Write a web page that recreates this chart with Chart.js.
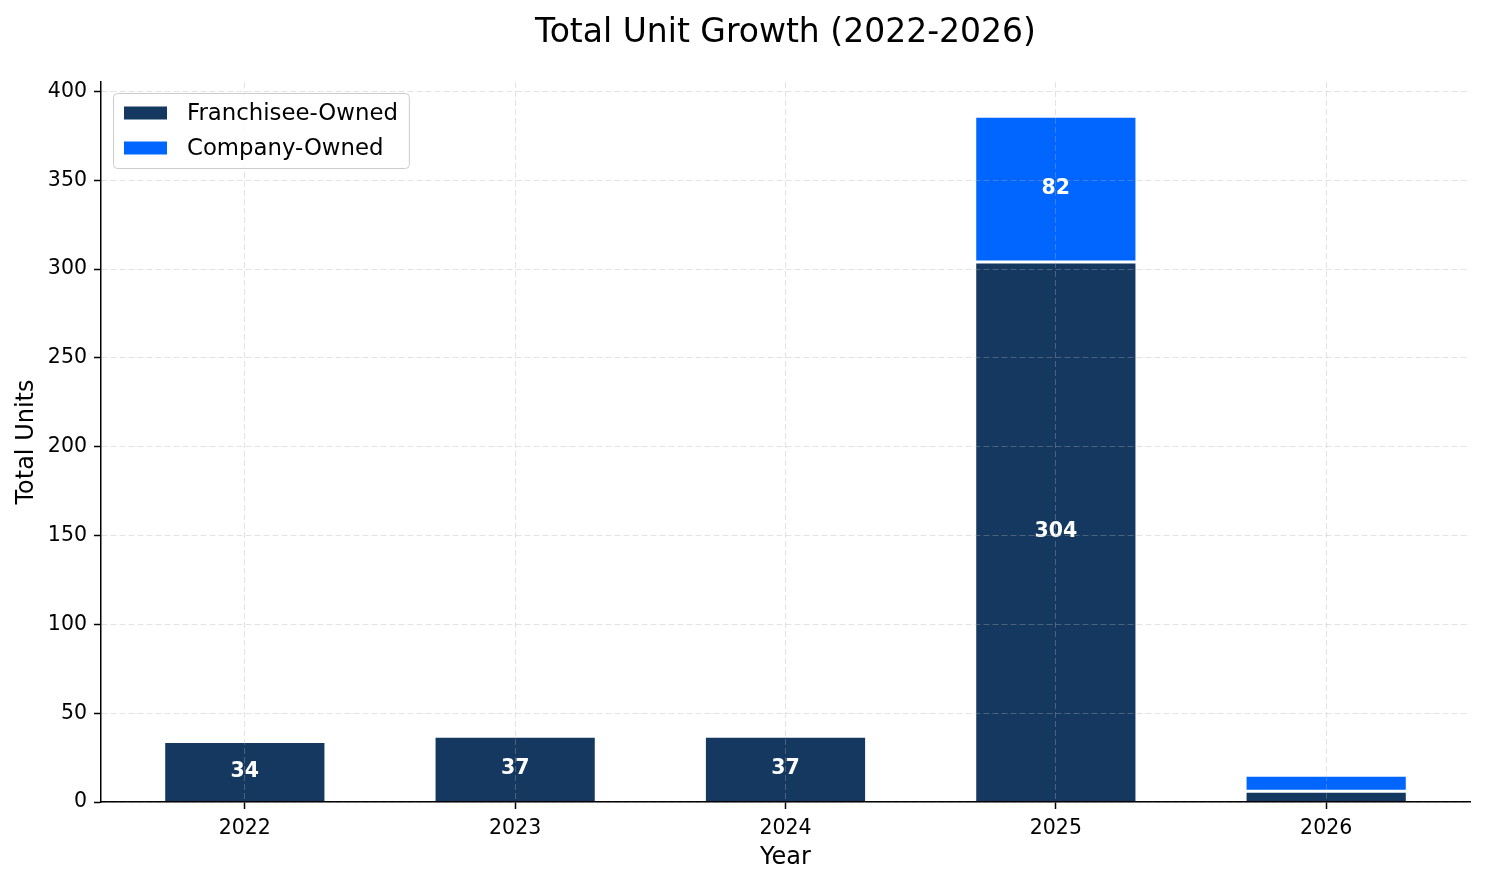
<!DOCTYPE html>
<html>
<head>
<meta charset="utf-8">
<script src="https://cdn.jsdelivr.net/npm/chart.js@4"></script>
<style>
    html, body { margin: 0; padding: 0; background: #fff; }
    #wrap { width: 1485px; height: 884px; }
</style>
</head>
<body>
<div id="wrap"><canvas id="unitChart"></canvas></div>
<script>
// Chart data
const years = ['2022', '2023', '2024', '2025', '2026'];
const franchiseeOwned = [34, 37, 37, 304, 6];
const companyOwned = [0, 0, 0, 82, 9];
const seriesNames = ['Franchisee-Owned', 'Company-Owned'];
const seriesColors = ['#14385f', '#0066ff'];
const chartTitle = 'Total Unit Growth (2022-2026)';

const FONT = '"DejaVu Sans", sans-serif';

// Title centred over the plot area (not the whole canvas)
const plotTitle = {
    id: 'plotTitle',
    afterDraw(chart) {
        const ctx = chart.ctx;
        const area = chart.chartArea;
        ctx.save();
        ctx.font = '33px ' + FONT;
        ctx.fillStyle = '#000';
        ctx.textAlign = 'center';
        ctx.textBaseline = 'alphabetic';
        ctx.fillText(chartTitle, (area.left + area.right) / 2, 42);
        ctx.restore();
    }
};

// White value labels centred in each segment
const segmentLabels = {
    id: 'segmentLabels',
    afterDatasetsDraw(chart) {
        const ctx = chart.ctx;
        ctx.save();
        ctx.font = 'bold 20.5px ' + FONT;
        ctx.fillStyle = '#fff';
        ctx.textAlign = 'center';
        ctx.textBaseline = 'middle';
        chart.data.datasets.forEach((ds, di) => {
            chart.getDatasetMeta(di).data.forEach((bar, i) => {
                const v = ds.data[i].y;
                if (v < 10) return;
                ctx.fillText(String(v), bar.x, (bar.y + bar.base) / 2);
            });
        });
        ctx.restore();
    }
};

// Legend box inside the plot, upper left
const innerLegend = {
    id: 'innerLegend',
    afterDraw(chart) {
        const ctx = chart.ctx;
        const area = chart.chartArea;
        const bx = area.left + 12, by = area.top + 11;
        ctx.save();
        ctx.font = '22.8px ' + FONT;
        const textW = Math.max(...seriesNames.map(n => ctx.measureText(n).width));
        const w = 74 + textW + 11, h = 75;
        ctx.beginPath();
        ctx.roundRect(bx + 0.5, by + 0.5, w, h, 4);
        ctx.fillStyle = 'rgba(255,255,255,0.8)';
        ctx.fill();
        ctx.strokeStyle = '#cccccc';
        ctx.lineWidth = 1;
        ctx.stroke();
        ctx.textBaseline = 'middle';
        ctx.textAlign = 'left';
        seriesNames.forEach((name, i) => {
            const cy = by + 20 + i * 35;
            ctx.fillStyle = seriesColors[i];
            ctx.fillRect(bx + 11, cy - 6.5, 43, 13);
            ctx.fillStyle = '#000';
            ctx.fillText(name, bx + 74, cy + 1);
        });
        ctx.restore();
    }
};

const toPoints = arr => arr.map((v, i) => ({ x: i, y: v }));

new Chart(document.getElementById('unitChart'), {
    type: 'bar',
    data: {
        datasets: [
            {
                label: seriesNames[0],
                data: toPoints(franchiseeOwned),
                backgroundColor: seriesColors[0],
                borderColor: '#fff',
                borderWidth: 1.5,
                barPercentage: 0.6,
                categoryPercentage: 1
            },
            {
                label: seriesNames[1],
                data: toPoints(companyOwned),
                backgroundColor: seriesColors[1],
                borderColor: '#fff',
                borderWidth: 1.5,
                borderSkipped: false,
                barPercentage: 0.6,
                categoryPercentage: 1
            }
        ]
    },
    options: {
        responsive: true,
        maintainAspectRatio: false,
        devicePixelRatio: 1,
        animation: false,
        layout: { padding: { left: 0, right: 15, top: 82, bottom: 0 } },
        plugins: {
            legend: { display: false },
            tooltip: { enabled: false },
            title: { display: false }
        },
        scales: {
            x: {
                type: 'linear',
                stacked: true,
                offset: false,
                min: -0.532,
                max: 4.532,
                afterFit: scale => { scale.height = 82; },
                ticks: {
                    stepSize: 1,
                    includeBounds: false,
                    autoSkip: false,
                    maxRotation: 0,
                    color: '#000',
                    padding: 7,
                    font: { family: FONT, size: 20.5 },
                    callback: v => years[v]
                },
                grid: {
                    z: 1,
                    offset: false,
                    color: 'rgba(176,176,176,0.35)',
                    lineWidth: 1,
                    tickLength: 7,
                    tickWidth: 1.5,
                    tickColor: '#000'
                },
                border: { z: 2, color: '#000', width: 1.5, dash: [6, 3] },
                title: {
                    display: true,
                    text: 'Year',
                    color: '#000',
                    font: { family: FONT, size: 24 },
                    padding: { top: 0, bottom: 12 }
                }
            },
            y: {
                stacked: true,
                min: 0,
                max: 405.3,
                afterFit: scale => { scale.width = 101; },
                ticks: {
                    stepSize: 50,
                    includeBounds: false,
                    color: '#000',
                    padding: 7,
                    font: { family: FONT, size: 20.5 }
                },
                grid: {
                    z: 1,
                    color: 'rgba(176,176,176,0.35)',
                    lineWidth: 1,
                    tickLength: 7,
                    tickWidth: 1.5,
                    tickColor: '#000'
                },
                border: { z: 2, color: '#000', width: 1.5, dash: [6, 3] },
                title: {
                    display: true,
                    text: 'Total Units',
                    color: '#000',
                    font: { family: FONT, size: 24 },
                    padding: { top: 12, bottom: 0 }
                }
            }
        }
    },
    plugins: [segmentLabels, innerLegend, plotTitle]
});
</script>
</body>
</html>
